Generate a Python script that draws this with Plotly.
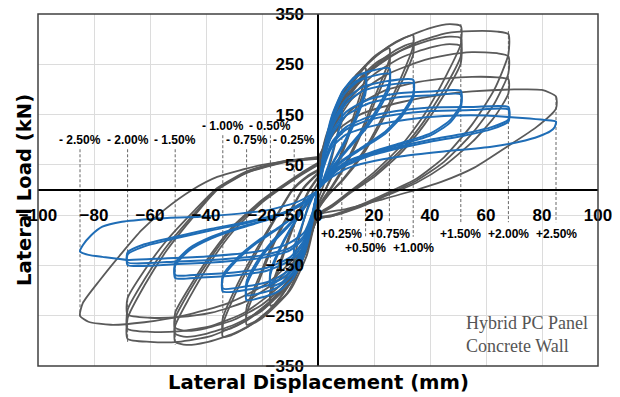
import plotly.graph_objects as go

# ---------------- data: hysteresis cycles (displacement mm, load kN) ----------------
# Gray specimen
G025_X = [0, 2, 4.5, 7, 8.5, 8.5, 6.5, 4, 2, 0, -2, -4.5, -7, -8.5, -8.5, -6.5, -4, -2, 0]
G025_Y = [15, 65, 115, 152, 165, 150, 100, 45, 10, -20, -62, -108, -140, -150, -136, -90, -40, -5, 15]

G050_X = [0, 3, 7, 11, 15, 17, 17, 14, 10, 6, 3, 0, -3, -7, -11, -15, -17, -17, -14, -10, -6, -3, 0]
G050A_Y = [20, 95, 165, 212, 236, 242, 226, 170, 100, 42, 5, -28, -95, -160, -205, -226, -230, -212, -158, -92, -35, 0, 24]
G050B_Y = [22, 85, 150, 198, 222, 228, 210, 158, 92, 38, 4, -30, -88, -150, -192, -213, -218, -200, -150, -86, -32, 2, 26]

G075_X = [0, 4, 9, 15, 21, 25.5, 25.5, 21, 16, 10, 5, 0, -4, -9, -15, -21, -25.5, -25.5, -21, -16, -10, -5, 0]
G075A_Y = [26, 112, 182, 236, 268, 282, 260, 195, 125, 55, 8, -34, -110, -176, -226, -257, -268, -246, -180, -110, -45, 4, 32]
G075B_Y = [30, 102, 168, 222, 254, 266, 246, 184, 118, 50, 5, -36, -102, -166, -214, -244, -254, -234, -172, -104, -42, 6, 34]

G100_X = [0, 4, 10, 17, 25, 31, 34, 34, 29, 23, 16, 9, 4, 0, -4, -10, -17, -25, -31, -34, -34, -29, -22, -15, -9, -4, 0]
G100A_Y = [32, 115, 192, 246, 285, 303, 308, 286, 215, 145, 75, 22, -8, -38, -115, -186, -236, -272, -289, -292, -268, -200, -125, -55, 0, 25, 38]
G100B_Y = [36, 104, 176, 230, 268, 287, 292, 270, 204, 138, 70, 20, -8, -40, -106, -174, -222, -258, -275, -278, -255, -190, -118, -52, 2, 27, 40]

G150_X = [0, 3, 10, 20, 30, 40, 47, 51, 51, 46, 38, 30, 20, 12, 5, 0, -4, -10, -20, -30, -40, -47, -51, -51, -46, -38, -30, -20, -14, -6, 0]
G150A_Y = [38, 110, 200, 265, 300, 322, 330, 326, 290, 230, 150, 90, 35, 0, -30, -48, -130, -200, -255, -285, -303, -308, -302, -270, -215, -140, -80, -25, 0, 30, 50]
G150B_Y = [45, 100, 182, 242, 278, 298, 305, 302, 266, 210, 138, 82, 30, -2, -32, -50, -120, -186, -238, -268, -286, -292, -286, -255, -202, -132, -74, -22, 2, 32, 52]
G150C_Y = [48, 95, 172, 230, 264, 283, 290, 286, 252, 198, 130, 76, 26, -4, -34, -52, -114, -178, -228, -258, -275, -280, -274, -244, -194, -126, -70, -20, 4, 34, 54]

G200_X = [0, 4, 12, 24, 36, 46, 55, 64, 68, 68, 63, 55, 45, 35, 25, 15, 5, 0, -5, -14, -26, -38, -50, -60, -68, -68, -62, -54, -44, -36, -25, -12, 0]
G200A_Y = [52, 120, 200, 260, 295, 312, 316, 315, 310, 270, 200, 130, 65, 22, -5, -30, -50, -56, -130, -205, -260, -290, -302, -302, -296, -255, -190, -120, -50, 0, 35, 55, 62]
G200B_Y = [55, 108, 180, 228, 255, 268, 274, 272, 266, 232, 172, 112, 56, 18, -8, -32, -52, -58, -122, -192, -243, -270, -281, -282, -276, -238, -178, -112, -46, 2, 36, 56, 63]
G200C_Y = [56, 98, 160, 198, 215, 222, 225, 224, 220, 192, 145, 95, 48, 14, -10, -34, -52, -58, -115, -178, -222, -244, -253, -254, -248, -215, -160, -100, -40, 4, 38, 58, 64]

G250_X = [0, 5, 15, 30, 45, 55, 70, 80, 85, 85, 78, 67.5, 56, 44, 35, 22, 10, 0, -6, -18, -32, -48, -62, -74, -82, -85, -84, -78, -70, -63, -55, -45, -36, -20, 0]
G250_Y = [64, 110, 150, 175, 190, 196, 200, 199, 186, 162, 125, 86, 45, 16, 0, -20, -38, -50, -120, -185, -225, -250, -263, -268, -262, -250, -225, -180, -125, -80, -40, 0, 26, 50, 66]

# Blue specimen
B025_X = [0, 2, 4, 6.5, 8.5, 8.5, 6, 3.5, 1, 0, -2, -4, -6.5, -8.5, -8.5, -6, -3.5, -1, 0]
B025_Y = [0, 62, 108, 145, 162, 142, 92, 45, 10, 0, -55, -95, -125, -135, -115, -75, -35, -6, 0]

B050_X = [0, 2, 5, 9, 13, 17, 17, 14, 10, 6, 3, 0, -2, -5, -9, -13, -17, -17, -14, -10, -6, -3, 0]
B050A_Y = [0, 72, 145, 198, 224, 232, 202, 152, 102, 62, 30, 0, -60, -122, -165, -184, -192, -168, -124, -80, -45, -20, 0]
B050B_Y = [0, 68, 138, 188, 214, 222, 194, 146, 98, 60, 28, 0, -56, -116, -157, -176, -184, -162, -120, -78, -44, -19, 0]

B075_X = [0, 2, 5, 9, 14, 19, 25.5, 25.5, 22, 17, 11, 6, 2, 0, -2, -5, -9, -14, -19, -25.5, -25.5, -22, -17, -11, -6, -2, 0]
B075A_Y = [0, 76, 148, 198, 226, 237, 242, 214, 170, 126, 86, 52, 16, 0, -64, -130, -176, -201, -212, -219, -190, -150, -110, -75, -44, -12, 0]
B075B_Y = [0, 72, 140, 188, 215, 226, 231, 205, 163, 121, 83, 50, 15, 0, -60, -124, -168, -192, -203, -209, -182, -144, -106, -72, -42, -11, 0]

B100_X = [0, 2, 5, 10, 16, 24, 34, 34, 30, 24, 16, 8, 3, 0, -2, -5, -10, -17, -25, -34, -34, -29, -22, -14, -7, -2, 0]
B100A_Y = [0, 70, 132, 180, 205, 216, 219, 190, 152, 116, 86, 56, 26, 0, -60, -120, -165, -188, -198, -202, -175, -140, -106, -76, -46, -12, 0]
B100B_Y = [0, 66, 125, 172, 197, 208, 212, 184, 147, 112, 83, 54, 25, 0, -57, -114, -158, -181, -191, -196, -170, -136, -103, -74, -45, -12, 0]

B150_X = [0, 2, 5, 10, 18, 28, 40, 51, 51, 47, 40, 30, 20, 10, 4, 0, -2, -5, -10, -18, -30, -42, -51, -51, -46, -38, -28, -16, -6, 0]
B150A_Y = [0, 60, 115, 155, 180, 192, 196, 197, 170, 138, 112, 94, 77, 56, 30, 0, -55, -105, -140, -160, -170, -174, -175, -150, -120, -96, -76, -56, -30, 0]
B150B_Y = [0, 57, 110, 148, 172, 184, 188, 190, 164, 133, 108, 91, 75, 55, 29, 0, -52, -100, -134, -154, -164, -168, -169, -145, -116, -93, -74, -55, -29, 0]

B200_X = [0, 2, 5, 10, 18, 28, 40, 55, 68, 68, 62, 52, 40, 29, 18, 8, 2, 0, -2, -5, -10, -20, -35, -50, -68, -68, -62, -50, -38, -25, -12, -4, 0]
B200A_Y = [0, 50, 95, 125, 145, 157, 164, 165, 165, 140, 125, 112, 100, 86, 70, 45, 15, 0, -50, -95, -120, -135, -143, -147, -149, -128, -112, -95, -80, -65, -45, -20, 0]
B200B_Y = [0, 48, 91, 120, 139, 150, 157, 159, 160, 136, 121, 108, 96, 83, 67, 43, 14, 0, -48, -91, -115, -130, -138, -142, -144, -124, -108, -92, -77, -63, -44, -19, 0]

B250_X = [0, 2, 5, 10, 20, 32, 45, 60, 73, 81, 85, 84.5, 83, 79, 72, 62, 44, 30, 18, 10, 4, 0, -2, -5, -12, -25, -40, -55, -68, -77, -82, -85, -84, -81, -77, -70, -58, -42, -28, -18, -8, -2, 0]
B250_Y = [0, 45, 85, 110, 128, 140, 147, 148, 143, 139, 136, 125, 117, 107, 96, 86, 76, 67, 55, 42, 22, 0, -45, -85, -110, -125, -132, -136, -139, -133, -129, -122, -110, -90, -73, -63, -57, -53, -47, -40, -25, -8, 0]

# Drift markers
DRIFT_POS_LABELS = ["+0.25%", "+0.50%", "+0.75%", "+1.00%", "+1.50%", "+2.00%", "+2.50%"]
DRIFT_NEG_LABELS = ["- 0.25%", "- 0.50%", "- 0.75%", "- 1.00%", "- 1.50%", "- 2.00%", "- 2.50%"]
DRIFT_DISP = [8.5, 17, 25.5, 34, 51, 68, 85]
POS_PEAK = [165, 242, 282, 308, 330, 316, 185]
NEG_PEAK = [-150, -230, -268, -292, -308, -302, -252]
POS_ROW = [0, 1, 0, 1, 0, 0, 0]
NEG_ROW = [0, 1, 0, 1, 0, 0, 0]

X_TICKS = [-100, -80, -60, -40, -20, 0, 20, 40, 60, 80, 100]
Y_TICKS = [-350, -250, -150, -50, 50, 150, 250, 350]

GRAY = "#5a5a5a"
BLUE = "#1f6db6"

gray_cycles = [
    (G025_X, G025_Y), (G050_X, G050A_Y), (G050_X, G050B_Y),
    (G075_X, G075A_Y), (G075_X, G075B_Y), (G100_X, G100A_Y), (G100_X, G100B_Y),
    (G150_X, G150A_Y), (G150_X, G150B_Y), (G150_X, G150C_Y),
    (G200_X, G200A_Y), (G200_X, G200B_Y), (G200_X, G200C_Y), (G250_X, G250_Y),
]
blue_cycles = [
    (B025_X, B025_Y), (B050_X, B050A_Y), (B050_X, B050B_Y),
    (B075_X, B075A_Y), (B075_X, B075B_Y), (B100_X, B100A_Y), (B100_X, B100B_Y),
    (B150_X, B150A_Y), (B150_X, B150B_Y), (B200_X, B200A_Y), (B200_X, B200B_Y),
    (B250_X, B250_Y),
]

fig = go.Figure()
for xs, ys in gray_cycles:
    fig.add_trace(go.Scatter(x=xs, y=ys, mode="lines",
                             line=dict(color=GRAY, width=1.8, shape="spline", smoothing=0.6),
                             hoverinfo="skip", showlegend=False))
for xs, ys in blue_cycles:
    fig.add_trace(go.Scatter(x=xs, y=ys, mode="lines",
                             line=dict(color=BLUE, width=2, shape="spline", smoothing=0.6),
                             hoverinfo="skip", showlegend=False))

shapes = []
annotations = []
LBL_FONT = dict(family="Liberation Sans, Arial", size=12, color="black", weight="bold")
pos_label_y = [-87.5, -115]
pos_line_end = [-64, -93]
neg_label_y = [99, 127]
neg_line_end = [81, 109]
for i, d in enumerate(DRIFT_DISP):
    shapes.append(dict(type="line", x0=d, x1=d, y0=POS_PEAK[i], y1=pos_line_end[POS_ROW[i]],
                       line=dict(color="#666666", width=1, dash="3px,2px"), layer="between"))
    annotations.append(dict(x=d, y=pos_label_y[POS_ROW[i]], text=DRIFT_POS_LABELS[i],
                            showarrow=False, font=LBL_FONT, xanchor="center", yanchor="middle"))
    shapes.append(dict(type="line", x0=-d, x1=-d, y0=neg_line_end[NEG_ROW[i]], y1=NEG_PEAK[i],
                       line=dict(color="#666666", width=1, dash="3px,2px"), layer="between"))
    annotations.append(dict(x=-d, y=neg_label_y[NEG_ROW[i]], text=DRIFT_NEG_LABELS[i],
                            showarrow=False, font=LBL_FONT, xanchor="center", yanchor="middle"))

shapes.append(dict(type="rect", xref="paper", yref="paper", x0=0, x1=1, y0=0, y1=1,
                   line=dict(color="#404040", width=1.5), layer="above"))

TITLE_FONT = dict(family="DejaVu Sans", size=19.6, color="black", weight="bold")
annotations.append(dict(xref="paper", yref="paper", x=0.5, y=-0.048, text="Lateral Displacement (mm)",
                        showarrow=False, font=TITLE_FONT, xanchor="center", yanchor="middle"))
annotations.append(dict(xref="paper", yref="paper", x=-0.025, y=0.5, text="Lateral Load (kN)",
                        showarrow=False, font=TITLE_FONT, textangle=-90, xanchor="center", yanchor="middle"))
annotations.append(dict(x=52.3, y=-288, text="Hybrid PC Panel<br>Concrete Wall", align="left",
                        showarrow=False, xanchor="left", yanchor="middle",
                        font=dict(family="Liberation Serif, Times New Roman", size=18, color="#555555")))

TICK_FONT = dict(family="Liberation Sans, Arial", size=17, color="black", weight="bold")
fig.update_layout(
    width=620, height=397,
    margin=dict(l=30, r=30, t=6, b=39, autoexpand=False),
    paper_bgcolor="white", plot_bgcolor="white",
    xaxis=dict(range=[-100, 100], tickvals=X_TICKS, showgrid=True, gridcolor="#dcdcdc", gridwidth=1,
               zeroline=False, showline=True, linecolor="black", linewidth=1.5, automargin=False,
               anchor="free", position=0.5, ticks="", ticklabelstandoff=10, tickfont=TICK_FONT,
               ticklabeloverflow="allow"),
    yaxis=dict(range=[-350, 350], tickvals=Y_TICKS, showgrid=True, gridcolor="#dcdcdc", gridwidth=1,
               zeroline=False, showline=True, linecolor="black", linewidth=1.5, automargin=False,
               anchor="free", position=0.5, ticks="", ticklabelstandoff=10, tickfont=TICK_FONT,
               ticklabeloverflow="allow"),
    shapes=shapes, annotations=annotations,
)

fig.write_html("out.html")
